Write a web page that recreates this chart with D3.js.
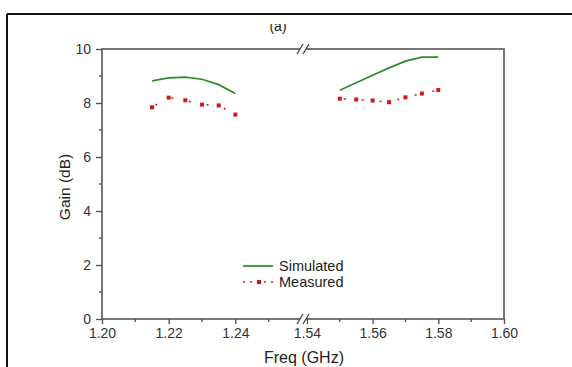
<!DOCTYPE html>
<meta charset="utf-8">
<script src="https://d3js.org/d3.v7.min.js"></script>
<style>
  body { margin: 0; background: #fff; }
  text { font-family: "Liberation Sans", Arial, sans-serif; fill: #222; }
</style>
<div id="my_dataviz"></div>
<script>
// data
var freqLow = [1.215, 1.22, 1.225, 1.23, 1.235, 1.24];
var simLow = [8.82, 8.93, 8.96, 8.88, 8.68, 8.35];
var measLow = [7.84, 8.20, 8.10, 7.94, 7.91, 7.57];

var freqHigh = [1.55, 1.555, 1.56, 1.565, 1.57, 1.575, 1.58];
var simHigh = [8.47, 8.75, 9.03, 9.30, 9.55, 9.70, 9.70];
var measHigh = [8.16, 8.13, 8.09, 8.03, 8.21, 8.35, 8.48];

var ticksLow = [1.20, 1.22, 1.24];
var ticksHigh = [1.54, 1.56, 1.58, 1.60];
var minorLow = [1.21, 1.23, 1.25];
var minorHigh = [1.55, 1.57, 1.59];
var yTicks = [0, 2, 4, 6, 8, 10];
var yMinor = [1, 3, 5, 7, 9];

var W = 572, H = 367;
var pLeft = 102, pRight = 504, pTop = 49, pBottom = 319, brk = 303;
var axisColor = "#555";

var svg = d3.select("#my_dataviz")
  .append("svg")
  .attr("width", W)
  .attr("height", H);

// outer frame (only top and left visible)
svg.append("line").attr("x1", 7).attr("x2", W).attr("y1", 14).attr("y2", 14)
  .attr("stroke", "#111").attr("stroke-width", 2);
svg.append("line").attr("x1", 7).attr("x2", 7).attr("y1", 14).attr("y2", H)
  .attr("stroke", "#111").attr("stroke-width", 2);

// scales, broken x axis
var xLow = d3.scaleLinear().domain([1.20, 1.2603]).range([pLeft, brk]);
var xHigh = d3.scaleLinear().domain([1.5388, 1.60]).range([brk, pRight]);
var y = d3.scaleLinear().domain([0, 10]).range([pBottom, pTop]);

// plot frame
svg.append("rect")
  .attr("x", pLeft).attr("y", pTop)
  .attr("width", pRight - pLeft).attr("height", pBottom - pTop)
  .attr("fill", "none").attr("stroke", axisColor).attr("stroke-width", 1.6);

// x axes
function xAxis(scale, ticks, minor) {
  var g = svg.append("g").attr("transform", "translate(0," + pBottom + ")");
  g.call(d3.axisBottom(scale).tickValues(ticks).tickFormat(d3.format(".2f")).tickSize(5).tickPadding(4));
  g.select(".domain").remove();
  g.selectAll("line").attr("stroke", axisColor).attr("stroke-width", 1.4);
  g.selectAll("text").attr("font-size", 14).style("fill", "#333");
  g.selectAll(".minor").data(minor).enter().append("line")
    .attr("x1", scale).attr("x2", scale).attr("y1", 0).attr("y2", 3)
    .attr("stroke", axisColor).attr("stroke-width", 1.4);
}
xAxis(xLow, ticksLow, minorLow);
xAxis(xHigh, ticksHigh, minorHigh);

// y axis
var gy = svg.append("g").attr("transform", "translate(" + pLeft + ",0)");
gy.call(d3.axisLeft(y).tickValues(yTicks).tickFormat(d3.format("d")).tickSize(6).tickPadding(5));
gy.select(".domain").remove();
gy.selectAll("line").attr("stroke", axisColor).attr("stroke-width", 1.4);
gy.selectAll("text").attr("font-size", 14).style("fill", "#333");
gy.selectAll(".minor").data(yMinor).enter().append("line")
  .attr("x1", -3).attr("x2", 0).attr("y1", y).attr("y2", y)
  .attr("stroke", axisColor).attr("stroke-width", 1.4);

// axis break marks
[pTop, pBottom].forEach(function(yy) {
  svg.append("rect").attr("x", brk - 3).attr("y", yy - 2).attr("width", 6).attr("height", 4).attr("fill", "#fff");
  [-3, 3].forEach(function(dx) {
    svg.append("line")
      .attr("x1", brk + dx - 3).attr("y1", yy + 5)
      .attr("x2", brk + dx + 3).attr("y2", yy - 5)
      .attr("stroke", "#444").attr("stroke-width", 1.3);
  });
});

// series
function drawSeries(xs, sim, meas, scale) {
  var line = d3.line().x(function(d, i) { return scale(xs[i]); }).y(function(d) { return y(d); });
  svg.append("path").datum(sim)
    .attr("d", line).attr("fill", "none")
    .attr("stroke", "#2e8b2e").attr("stroke-width", 1.7);
  svg.append("path").datum(meas)
    .attr("d", line).attr("fill", "none")
    .attr("stroke", "#d42020").attr("stroke-width", 1.6)
    .attr("stroke-dasharray", "0,4,2,12");
  svg.selectAll(null).data(meas).enter().append("rect")
    .attr("x", function(d, i) { return scale(xs[i]) - 2; })
    .attr("y", function(d) { return y(d) - 2; })
    .attr("width", 4).attr("height", 4)
    .attr("fill", "#d01818");
}
drawSeries(freqLow, simLow, measLow, xLow);
drawSeries(freqHigh, simHigh, measHigh, xHigh);

// legend
var lg = svg.append("g");
lg.append("line").attr("x1", 243).attr("x2", 273).attr("y1", 266).attr("y2", 266)
  .attr("stroke", "#2e8b2e").attr("stroke-width", 1.7);
lg.append("text").attr("x", 279).attr("y", 271).attr("font-size", 14.5).text("Simulated");
lg.append("line").attr("x1", 243).attr("x2", 275).attr("y1", 282).attr("y2", 282)
  .attr("stroke", "#d42020").attr("stroke-width", 1.6).attr("stroke-dasharray", "2,5");
lg.append("rect").attr("x", 257).attr("y", 280).attr("width", 4).attr("height", 4).attr("fill", "#d01818");
lg.append("text").attr("x", 279).attr("y", 287).attr("font-size", 14.5).text("Measured");

// axis titles
svg.append("text").attr("x", 304).attr("y", 363).attr("text-anchor", "middle")
  .attr("font-size", 16).text("Freq (GHz)");
svg.append("text").attr("transform", "translate(70,187) rotate(-90)")
  .attr("text-anchor", "middle").attr("font-size", 15.5).text("Gain (dB)");

// clipped "(a)" title
svg.append("clipPath").attr("id", "clipTitle")
  .append("rect").attr("x", 0).attr("y", 24).attr("width", W).attr("height", 20);
svg.append("text").attr("x", 278).attr("y", 31).attr("text-anchor", "middle")
  .attr("font-size", 14).attr("clip-path", "url(#clipTitle)").text("(a)");
</script>
